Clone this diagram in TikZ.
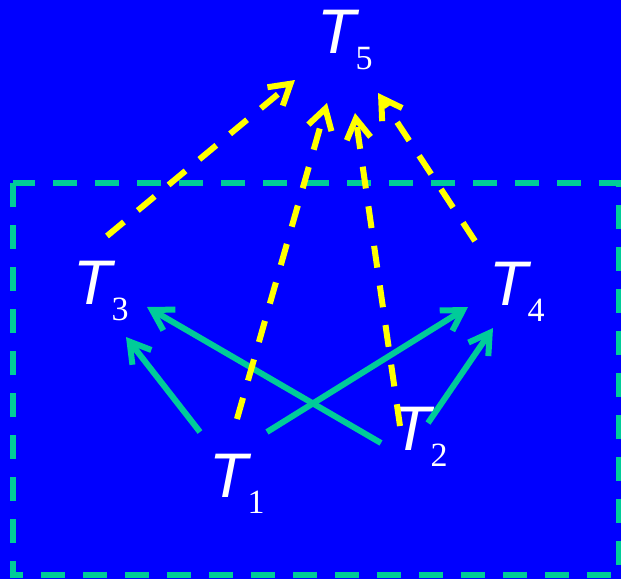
\documentclass[tikz,border=0pt]{standalone}
\usepackage{fontspec}
\usetikzlibrary{arrows.meta,calc}
\newfontfamily\tfont{Liberation Sans}
\newfontfamily\nfont{Liberation Serif}
\definecolor{bg}{RGB}{0,0,255}
\definecolor{tealg}{RGB}{0,204,153}
\definecolor{yel}{RGB}{255,255,0}
\newcommand{\tlab}[1]{{\tfont\itshape\fontsize{63}{63}\selectfont T}\kern0pt\raisebox{-16pt}{\nfont\fontsize{34}{34}\selectfont #1}}
\tikzset{
  lab/.style={text=white, inner sep=0pt, anchor=base west},
  barb/.style={-{Straight Barb[length=20pt,width=24pt]}},
  garrow/.style={draw=tealg, line width=6pt, barb},
  yarrow/.style={draw=yel, line width=6pt, dash pattern=on 22pt off 18pt, barb},
  box/.style={draw=tealg, line width=6pt, dash pattern=on 24pt off 18pt}
}
\begin{document}
\begin{tikzpicture}[x=1pt,y=-1pt]
\fill[bg] (0,0) rectangle (621,579);
\useasboundingbox (0,0) rectangle (621,579);
\draw[box] (13,183) -- (13,575) -- (619,575) -- (619,183) -- cycle;
\node[lab] (t5) at (317,53) {\tlab{5}};
\node[lab] (t3) at (73,304) {\tlab{3}};
\node[lab] (t4) at (489,305) {\tlab{4}};
\node[lab] (t2) at (392,450) {\tlab{2}};
\node[lab] (t1) at (209,497) {\tlab{1}};
% green arrows
\draw[garrow] ($(t1.base west)+(-9,-65)$) -- ($(t3.base west)+(53,33)$);
\draw[garrow] ($(t2.base west)+(-11,-7)$) -- ($(t3.base west)+(74,3)$);
\draw[garrow] ($(t1.base west)+(58,-65)$) -- ($(t4.base west)+(-21,2)$);
\draw[garrow] ($(t2.base west)+(36,-27)$) -- ($(t4.base west)+(4,23)$);
% yellow dashed arrows
\draw[yarrow] ($(t3.base west)+(34,-68)$) -- ($(t5.base west)+(-22,27)$);
\draw[yarrow] ($(t1.base west)+(28,-78)$) -- ($(t5.base west)+(10,50)$);
\draw[yarrow] ($(t2.base west)+(8,-24)$) -- ($(t5.base west)+(38,60)$);
\draw[yarrow] ($(t4.base west)+(-14,-64)$) -- ($(t5.base west)+(61,40)$);
\end{tikzpicture}
\end{document}
